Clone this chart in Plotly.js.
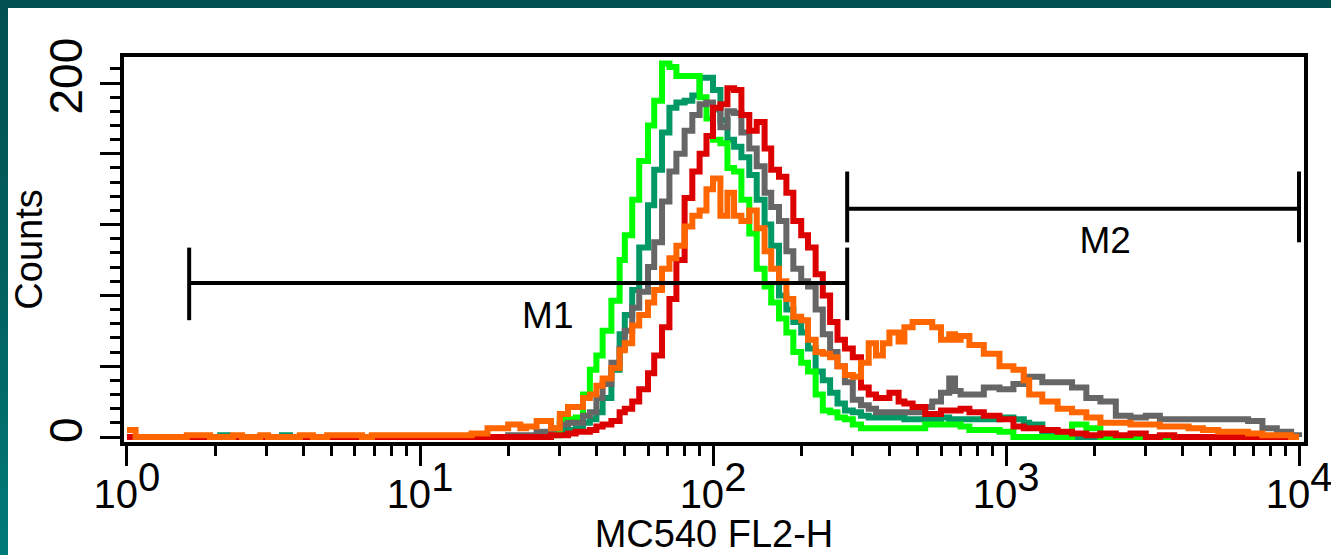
<!DOCTYPE html>
<html><head><meta charset="utf-8">
<script src="https://cdn.plot.ly/plotly-3.0.1.min.js"></script>
<style>
html,body{margin:0;padding:0;width:1331px;height:555px;overflow:hidden;}
body{background:linear-gradient(to bottom,#02504f 0%,#026361 55%,#007b79 100%);}
#frame{position:absolute;left:8px;top:8px;width:1323px;height:547px;background:#fff;}
#chart{width:1323px;height:547px;}
</style></head><body>
<div id="frame"><div id="chart"></div></div>
<script>
// FL2-H channel start values (bin starts, step histogram)
const fl2H = [1,1.07,1.6,1.92,2.08,2.21,2.3,2.47,2.85,3.03,3.38,3.6,3.89,4.31,4.82,6.34,6.85,
  15,17,20,22,23,25,28,30,32,34,36,38,40,42,45,48,50,53,56,60,63,67,71,75,80,85,90,95,
  100,106,112,118,125,133,141,150,158,168,178,188,200,211,224,237,251,266,282,300,
  320,340,360,380,400,430,450,480,530,560,600,640,670,700,750,840,950,
  1060,1150,1200,1330,1500,1680,1880,2100,2370,2660,3000,3350,3750,4200,4700,5300,6000,6700,7500,8400,9400,10000];

const tealCounts = [0,0,0,0,1,0,0,0,0,0,1,0,0,0,0,0,0,
  0,0,0,0,0,1,3,4,4,5,8,10,14,22,38,58,69,83,107,131,151,172,186,189,190,193,203,203,
  196,179,168,164,158,148,134,120,108,80,72,65,59,50,37,32,25,19,15,14,
  12,11,11,11,11,11,10,10,10,10,11,10,10,10,10,10,11,
  10,8,7,3,0,0,0,0,0,0,0,0,0,0,0,0,0,0,0,0,0,0];

const limeCounts = [0,0,0,0,0,0,0,0,0,0,0,0,0,0,0,0,0,
  0,0,0,0,0,0,1,10,10,11,24,38,46,60,77,100,114,134,156,176,190,211,209,204,204,204,192,180,
  168,166,152,150,134,115,95,85,76,67,59,48,42,37,24,15,14,11,10,7,
  5,5,5,5,5,5,5,5,7,7,7,7,7,6,4,4,3,
  0,0,0,0,0,7,5,0,0,0,0,0,0,0,0,0,0,0,0,0,0,0];

const grayCounts = [0,0,0,0,0,0,0,0,0,0,0,0,0,0,0,0,0,
  0,0,1,1,1,3,5,7,8,8,12,14,22,30,42,50,60,73,82,96,110,133,150,160,173,182,188,189,
  185,175,184,183,172,163,153,138,130,122,105,95,88,85,72,58,48,40,31,21,
  18,16,14,14,14,14,14,14,17,20,25,33,26,24,24,28,27,
  30,34,34,31,31,28,22,20,12,11,12,10,10,10,10,10,10,9,5,3,1,0];

const redCounts = [0,0,0,0,0,0,0,0,0,0,0,0,0,0,0,0,0,
  0,0,0,0,0,0,1,1,2,3,3,4,6,7,9,14,16,20,27,36,46,62,78,100,135,150,160,170,
  186,188,197,196,182,173,178,163,151,147,138,122,114,107,92,80,65,55,50,45,
  28,24,22,22,25,20,19,17,13,13,15,15,15,16,14,12,10,
  6,5,5,4,3,2,1,2,1,2,0,1,0,0,0,0,0,0,0,0,0,0];

const orangeCounts = [4,0,1,0,0,0,1,0,1,0,0,0,1,0,1,0,1,
  2,5,7,5,6,9,5,13,17,17,22,24,29,33,39,49,53,63,69,76,83,95,101,108,119,125,128,140,
  146,125,138,125,122,128,118,105,95,88,78,68,66,55,48,47,45,40,35,34,
  42,53,46,53,59,54,62,65,65,62,55,58,55,57,52,47,40,
  38,32,24,20,16,14,11,8,8,7,7,6,6,5,4,3,3,2,1,1,0,0];

const seriesNames = ['teal','lime','gray','red','orange'];
const seriesColors = ['#009966','#00ff00','#666666','#dd0000','#ff6600'];
const seriesCounts = [tealCounts, limeCounts, grayCounts, redCounts, orangeCounts];

// Gate markers
const m1Range = [1.63, 287];
const m1Level = 87;
const m1Cap = [66, 107];
const m2Range = [287, 10000];
const m2Level = 129;
const m2Cap = [110, 150];
const gateLabels = ['M1','M2'];
const gateLabelX = [27.3, 2180];
const gateLabelY = [67, 109];

const xTickVals = [1,10,100,1000,10000];
const xTickText = xTickVals.map((v,i)=>'10<sup><span style="font-size:40px">'+i+'</span></sup>');
const yTickVals = [0,40,80,120,160,200];
const yTickText = ['0','','','','','200'];

const traces = seriesCounts.map((c,i)=>({
  type:'scatter', mode:'lines', x: fl2H, y: c, name: seriesNames[i],
  line:{color: seriesColors[i], width:6, shape:'hv'}, hoverinfo:'skip'
}));

function gate(range, level, cap){
  return {type:'scatter', mode:'lines',
    x:[range[0],range[0],null,range[0],range[1],null,range[1],range[1]],
    y:[cap[0],cap[1],null,level,level,null,cap[0],cap[1]],
    line:{color:'#000', width:4}, hoverinfo:'skip', cliponaxis:false};
}
traces.push(gate(m1Range,m1Level,m1Cap));
traces.push(gate(m2Range,m2Level,m2Cap));
traces.push({type:'scatter', mode:'text', x: gateLabelX, y: gateLabelY, text: gateLabels,
  textposition:'middle center', textfont:{family:'Liberation Sans, Arial, sans-serif', size:37, color:'#000'},
  hoverinfo:'skip', cliponaxis:false});

const layout = {
  width:1323, height:547,
  margin:{l:116, r:27, t:49, b:113},
  paper_bgcolor:'#fff', plot_bgcolor:'#fff',
  showlegend:false,
  font:{family:'Liberation Sans, Arial, sans-serif', color:'#000'},
  xaxis:{type:'log', range:[-0.0102, 4.017], showgrid:false, zeroline:false,
    showline:true, linewidth:4, linecolor:'#000', mirror:true,
    tickvals:xTickVals, ticktext:xTickText, ticks:'outside', ticklen:20, tickwidth:3, tickcolor:'#000',
    tickfont:{size:40}, ticklabelstandoff:-6, ticklabeloverflow:'allow',
    minor:{dtick:'D1', ticks:'outside', ticklen:10, tickwidth:3, tickcolor:'#000', showgrid:false},
    title:{text:'MC540 FL2-H', font:{size:38}, standoff:6}},
  yaxis:{range:[-2.82, 214.7], showgrid:false, zeroline:false,
    showline:true, linewidth:4, linecolor:'#000', mirror:true,
    tickvals:yTickVals, ticktext:yTickText, ticks:'outside', ticklen:20, tickwidth:3, tickcolor:'#000',
    tickangle:-90, tickfont:{size:46}, ticklabelstandoff:0,
    minor:{dtick:8, tick0:0, ticks:'outside', ticklen:10, tickwidth:3, tickcolor:'#000', showgrid:false},
    title:{text:'Counts', font:{size:38}, standoff:8}}
};

Plotly.newPlot('chart', traces, layout, {staticPlot:true, displayModeBar:false});
</script>
</body></html>
